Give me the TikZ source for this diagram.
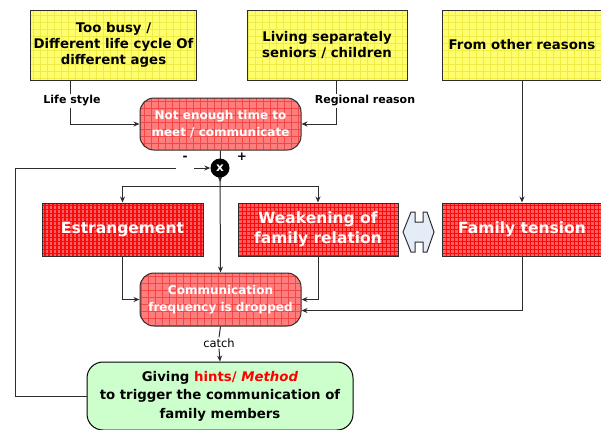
\documentclass[tikz,border=0pt]{standalone}
\usepackage{fontspec}
\setmainfont{DejaVu Sans}
\usetikzlibrary{arrows.meta,calc}
\definecolor{ybase}{RGB}{255,255,110}
\definecolor{ygrid}{RGB}{240,236,70}
\definecolor{rbase}{RGB}{255,95,95}
\definecolor{rgrid}{RGB}{250,10,10}
\definecolor{pbase}{RGB}{255,125,125}
\definecolor{pgrid}{RGB}{245,70,70}
\definecolor{gbase}{RGB}{204,255,204}
\definecolor{lcol}{RGB}{45,45,45}
\definecolor{dblue}{RGB}{228,236,248}
\tikzset{
  conn/.style={draw=lcol,line width=1pt},
  arr/.style={conn,-{Stealth[length=6pt,width=5pt]}},
  yellowbox/.style={draw=lcol,line width=1pt,fill=ybase,minimum width=159pt,minimum height=70pt,
    align=center,font=\fontsize{13.3}{16}\selectfont\bfseries,
    path picture={\draw[ygrid,line width=0.5pt] (path picture bounding box.south west) grid[step=7pt] (path picture bounding box.north east);}},
  redbox/.style={draw=lcol,line width=1pt,fill=rbase,minimum width=160pt,minimum height=53pt,
    align=center,text=white,font=\fontsize{15.5}{20}\selectfont\bfseries,
    path picture={\draw[rgrid,line width=1.1pt] (path picture bounding box.south west) grid[step=4pt] (path picture bounding box.north east);}},
  pillbox/.style={draw=lcol,line width=1pt,fill=pbase,rounded corners=14pt,minimum width=161pt,minimum height=52pt,
    align=center,text=white,font=\fontsize{12}{16.5}\selectfont\bfseries,
    path picture={\draw[pgrid,line width=0.6pt] (path picture bounding box.south west) grid[step=7pt] (path picture bounding box.north east);}},
  greenbox/.style={draw=black,line width=1pt,fill=gbase,rounded corners=16pt,minimum width=266pt,minimum height=68pt,
    align=center,font=\fontsize{13.3}{18.5}\selectfont\bfseries},
  lbl/.style={font=\fontsize{11}{13}\selectfont\bfseries,inner sep=1pt},
  sgn/.style={font=\fontsize{12}{14}\selectfont\bfseries,inner sep=0pt},
}
\begin{document}
\begin{tikzpicture}[x=1pt,y=-1pt]
\useasboundingbox[fill=white] (0,0) rectangle (601,429);
% top boxes
\node[yellowbox] (b1) at (113.5,45) {Too busy /\\Different life cycle Of\\different ages};
\node[yellowbox,minimum width=160pt] (b2) at (327,45) {Living separately\\seniors / children};
\node[yellowbox,minimum width=160pt] (b3) at (522,45) {From other reasons};
% labels
\node[lbl] (life) at (72,101) {Life style};
\node[lbl] (reg) at (365,101) {Regional reason};
\coordinate (lx) at (70,0);
\coordinate (rx) at (336,0);
% pill 1
\node[pillbox] (p1) at (220.5,124) {Not enough time to\\meet / communicate};
\draw[conn] (b1.south -| lx) -- (lx |- life.north);
\draw[arr] (lx |- life.south) |- (p1.west);
\draw[conn] (b2.south -| rx) -- (rx |- reg.north);
\draw[arr] (rx |- reg.south) |- (p1.east);
% multiplier
\coordinate (cxtip) at (220,182);
\draw[arr] (p1.south) -- (cxtip);
\node[circle,fill=black,minimum size=19pt,inner sep=0pt,text=white,font=\fontsize{12}{12}\selectfont\bfseries] (cx) at (220,168) {x};
\node[sgn] (minus) at (185,158) {-};
\node[sgn] (plus) at (242,157) {+};
% red boxes
\node[redbox,minimum width=161pt] (est) at (122.5,229.5) {Estrangement};
\node[redbox] (weak) at (318,229.5) {Weakening of\\family relation};
\node[redbox] (ft) at (522,229.5) {Family tension};
% double arrow shape
\draw[draw=lcol,line width=1pt,fill=dblue,line join=miter]
  (403,232) -- (411,212) -- (415,212) -- (415,222) -- (423,222) -- (423,212) -- (427,212)
  -- (434,232) -- (427,252) -- (423,252) -- (423,242) -- (415,242) -- (415,252) -- (411,252) -- cycle;
% pill 2
\node[pillbox,minimum height=53pt] (p2) at (220.5,299.5) {Communication\\frequency is dropped};
\coordinate (br) at (220,186);
\draw[arr] (cx.south) -- (p2.north);
\draw[arr] (br) -| (est.north);
\draw[arr] (br) -| (weak.north);
\draw[arr] (b3.south) -- (ft.north);
\draw[arr] (est.south) |- (p2.west);
\draw[arr] (weak.south) |- (p2.east);
\draw[arr] (ft.south) |- ($(p2.east)+(0,11)$);
% catch and green box
\node[font=\fontsize{11.5}{13}\selectfont,inner sep=1pt] (catch) at (219,343) {catch};
\node[greenbox] (g) at (220,396) {Giving \textcolor{red}{hints/ \textit{Method}}\\to trigger the communication of\\family members};
\draw[conn] (p2.south) -- (catch.north);
\draw[arr] (catch.south) -- (g.north);
% feedback
\coordinate (fbl) at (15,168);
\coordinate (fbe) at (176,168);
\coordinate (fbs) at (194,168);
\draw[conn] (g.west) -| (fbl) -- (fbe);
\draw[arr] (fbs) -- (cx.west);
\end{tikzpicture}
\end{document}
